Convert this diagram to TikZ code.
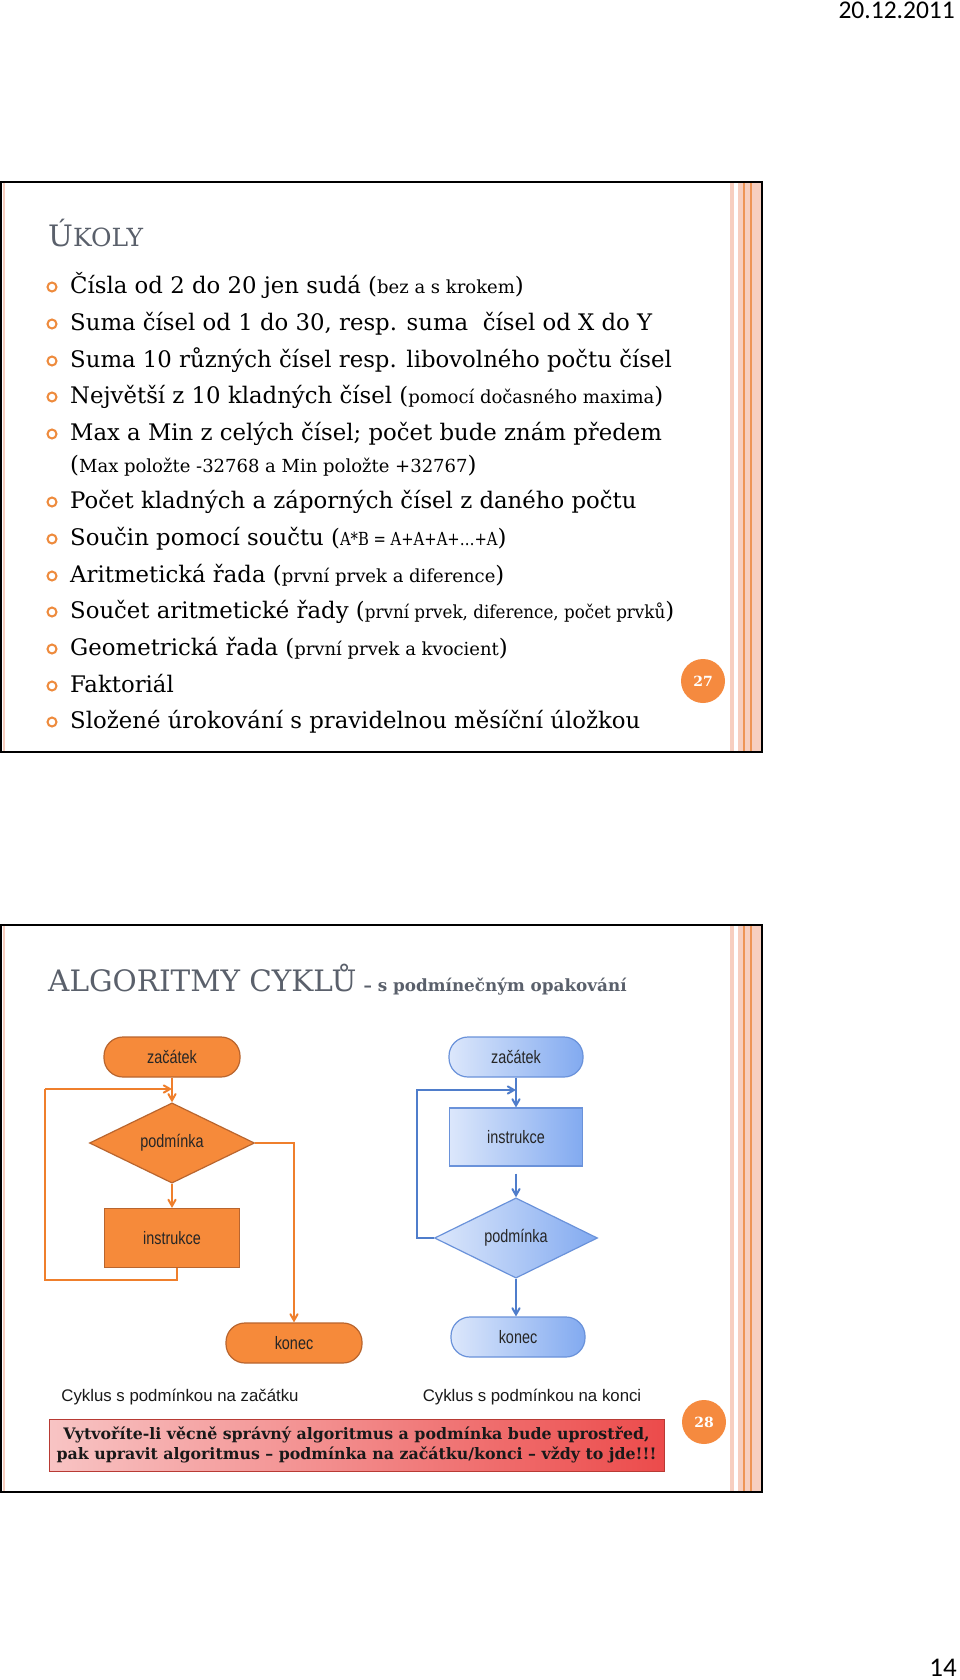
\documentclass[tikz,border=0pt]{standalone}
\usepackage{fontspec}
\setmainfont{DejaVu Serif}
\newfontfamily\chartfont{Liberation Sans}[FakeStretch=0.8]
\newfontfamily\capfont{Liberation Sans}
\newfontfamily\datefont{Carlito}
\usetikzlibrary{shapes.geometric, arrows}

\definecolor{slidegray}{HTML}{5A606B}
\definecolor{bulletorange}{HTML}{EE8B3D}
\definecolor{stripepink}{HTML}{F7CEBF}
\definecolor{stripeorange}{HTML}{EE9455}
\definecolor{chartorange}{HTML}{F68A3A}
\definecolor{orangeborder}{HTML}{B9652E}
\definecolor{orangeline}{HTML}{EF7F2C}
\definecolor{bluelight}{HTML}{DCE7FB}
\definecolor{bluedark}{HTML}{82AAF0}
\definecolor{blueborder}{HTML}{6A92DA}
\definecolor{blueline}{HTML}{4F7DCB}
\definecolor{notepink}{HTML}{F8C4C4}
\definecolor{notered}{HTML}{EC4B4B}
\definecolor{noteborder}{HTML}{B83A34}
\definecolor{badgeorange}{HTML}{F58A3F}

\tikzstyle{slideframe} = [draw=black, line width=2pt]
\tikzstyle{stripe} = [fill=stripepink]
\tikzstyle{stripeline} = [draw=stripeorange, line width=1.2pt]
\tikzstyle{edgeline} = [draw=stripepink, line width=2pt]
\tikzstyle{bulletring} = [draw=bulletorange, line width=2pt]
\tikzstyle{task} = [
    anchor=base west,
    inner sep=0pt,
    font=\fontsize{22.8}{28}\selectfont
]
\tikzstyle{badge} = [
    circle,
    fill=badgeorange,
    text=white,
    minimum size=44pt,
    font=\bfseries\fontsize{14}{17}\selectfont
]
\tikzstyle{termO} = [
    rectangle,
    rounded corners=19pt,
    minimum width=136pt,
    minimum height=40pt,
    fill=chartorange,
    draw=orangeborder,
    line width=1.2pt,
    text=black!85,
    font=\chartfont\fontsize{18}{20}\selectfont
]
\tikzstyle{processO} = [
    rectangle,
    minimum width=135pt,
    minimum height=59pt,
    fill=chartorange,
    draw=orangeborder,
    line width=1.2pt,
    text=black!85,
    font=\chartfont\fontsize{18}{20}\selectfont
]
\tikzstyle{decisionO} = [
    diamond,
    inner sep=0pt,
    minimum width=165pt,
    minimum height=70pt,
    fill=chartorange,
    draw=orangeborder,
    line width=1.2pt,
    text=black!85,
    font=\chartfont\fontsize{18}{20}\selectfont
]
\tikzstyle{termB} = [
    rectangle,
    rounded corners=19pt,
    minimum width=134pt,
    minimum height=40pt,
    left color=bluelight,
    right color=bluedark,
    draw=blueborder,
    line width=1.2pt,
    text=black!85,
    font=\chartfont\fontsize{18}{20}\selectfont
]
\tikzstyle{processB} = [
    rectangle,
    minimum width=133pt,
    minimum height=58pt,
    left color=bluelight,
    right color=bluedark,
    draw=blueborder,
    line width=1.2pt,
    text=black!85,
    font=\chartfont\fontsize{18}{20}\selectfont
]
\tikzstyle{decisionB} = [
    diamond,
    inner sep=0pt,
    minimum width=163pt,
    minimum height=70pt,
    left color=bluelight,
    right color=bluedark,
    draw=blueborder,
    line width=1.2pt,
    text=black!85,
    font=\chartfont\fontsize{18}{20}\selectfont
]
\tikzstyle{caption} = [font=\capfont\fontsize{16.8}{20}\selectfont, text=black!90]
\tikzstyle{notebox} = [
    rectangle,
    minimum width=615pt,
    minimum height=52pt,
    left color=notepink,
    right color=notered,
    draw=noteborder,
    line width=1pt,
    align=center,
    inner sep=2pt,
    text=black!90,
    font=\bfseries\fontsize{15.8}{20}\selectfont
]
\tikzstyle{arrowO} = [draw=orangeline, line width=2pt, ->, >=angle 60]
\tikzstyle{lineO} = [draw=orangeline, line width=2pt]
\tikzstyle{arrowB} = [draw=blueline, line width=2pt, ->, >=angle 60]

\newcommand{\smalltxt}[1]{{\fontsize{18}{22}\selectfont #1}}
\newcommand{\narrowtxt}[2][0.82]{{\fontsize{18}{22}\selectfont\addfontfeature{FakeStretch=#1}#2}}
\newcommand{\slidedeco}[2]{%
    \fill[stripe] (730,#1) rectangle (734,#2);
    \fill[stripe] (738,#1) rectangle (761,#2);
    \draw[stripeline] (744,#1) -- (744,#2);
    \draw[stripeline] (751,#1) -- (751,#2);
    \draw[edgeline] (4,#1) -- (4,#2);
}

\begin{document}
\begin{tikzpicture}[x=1pt, y=-1pt]

\fill[white] (0,0) rectangle (960,1680);
\useasboundingbox (0,0) rectangle (960,1680);

\node (date) [anchor=base east, inner sep=0pt, font=\datefont\fontsize{25.5}{28}\selectfont] at (955,19) {20.12.2011};
\node (page) [anchor=base east, inner sep=0pt, font=\datefont\fontsize{27}{30}\selectfont] at (957,1676) {14};

% Slide 27
\slidedeco{183}{751}
\draw[slideframe] (1,182) rectangle (762,752);

\node (title1) [task, text=slidegray] at (48,247)
{{\fontsize{29.5}{30}\selectfont Ú}{\fontsize{25}{30}\selectfont KOLY}};

\foreach \y in {287,324,361,397,434,502,539,576,612,649,686,722}
    \draw[bulletring] (52,\y) circle (4.5pt);

\node (t1) [task] at (70,293) {Čísla od 2 do 20 jen sudá (\smalltxt{bez a s krokem})};
\node (t2) [task] at (70,330) {Suma čísel od 1 do 30, resp. suma\ \ čísel od X do Y};
\node (t3) [task] at (70,367) {Suma 10 různých čísel resp. libovolného počtu čísel};
\node (t4) [task] at (70,403) {Největší z 10 kladných čísel (\smalltxt{pomocí dočasného maxima})};
\node (t5) [task] at (70,440) {Max a Min z celých čísel; počet bude znám předem};
\node (t6) [task] at (70,472) {(\smalltxt{Max položte -32768 a Min položte +32767})};
\node (t7) [task] at (70,508) {Počet kladných a záporných čísel z daného počtu};
\node (t8) [task] at (70,545) {Součin pomocí součtu (\narrowtxt{A*B = A+A+A+…+A})};
\node (t9) [task] at (70,582) {Aritmetická řada (\smalltxt{první prvek a diference})};
\node (t10) [task] at (70,618) {Součet aritmetické řady (\narrowtxt[0.93]{první prvek, diference, počet prvků})};
\node (t11) [task] at (70,655) {Geometrická řada (\smalltxt{první prvek a kvocient})};
\node (t12) [task] at (70,692) {Faktoriál};
\node (t13) [task] at (70,728) {Složené úrokování s pravidelnou měsíční úložkou};

\node (badge27) [badge] at (703,681) {27};

% Slide 28
\slidedeco{926}{1491}
\draw[slideframe] (1,925) rectangle (762,1492);

\node (title2) [task, text=slidegray] at (48,991)
{{\fontsize{29.5}{34}\selectfont ALGORITMY CYKLŮ}\ {\bfseries\fontsize{16.8}{20}\selectfont – s podmínečným opakování}};

% Cycle with the condition first
\node (startL) [termO] at (172,1057) {začátek};
\node (condL) [decisionO] at (172,1143) {podmínka};
\node (instrL) [processO] at (172,1238) {instrukce};
\node (endL) [termO] at (294,1343) {konec};
\coordinate (loopL) at (45,1089);
\coordinate (joinL) at (172,1089);

% Cycle with the condition last
\node (startR) [termB] at (516,1057) {začátek};
\node (instrR) [processB] at (516,1137) {instrukce};
\node (condR) [decisionB] at (516,1238) {podmínka};
\node (endR) [termB] at (518,1337) {konec};
\coordinate (loopR) at (417,1090);
\coordinate (joinR) at (516,1090);

% Arrows
\draw [arrowO] (startL) -- (condL);
\draw [arrowO] (condL) -- (instrL);
\draw [lineO] ([xshift=5]instrL.south) -- ++(0,12) -| (loopL);
\draw [arrowO] (loopL) -- (joinL);
\draw [arrowO] (condL.east) -| (endL.north);

\draw [arrowB] (startR) -- (instrR);
\draw [arrowB, shorten <=7pt] (instrR) -- (condR);
\draw [arrowB] (condR.west) -| (loopR) -- (joinR);
\draw [arrowB] (condR.south) -- (endR.north -| condR.south);

\node (capL) [caption] at (180,1397) {Cyklus s podmínkou na začátku};
\node (capR) [caption] at (532,1397) {Cyklus s podmínkou na konci};

\node (note) [notebox] at (356.5,1445)
{Vytvoříte-li věcně správný algoritmus a podmínka bude uprostřed,\\
pak upravit algoritmus – podmínka na začátku/konci – vždy to jde!!!};

\node (badge28) [badge] at (704,1422) {28};

\end{tikzpicture}
\end{document}
